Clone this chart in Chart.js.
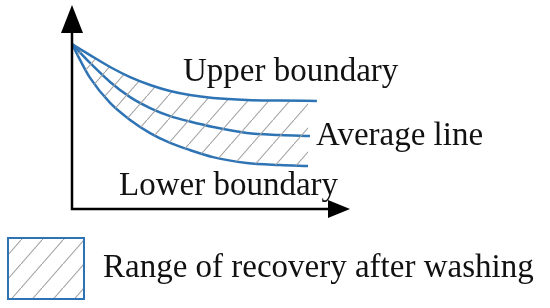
<!DOCTYPE html>
<html>
<head>
<meta charset="utf-8">
<script src="https://cdn.jsdelivr.net/npm/chart.js@4/dist/chart.umd.min.js"></script>
<style>
  html, body { margin: 0; padding: 0; background: #fff; }
  #wrap { width: 550px; height: 308px; }
</style>
</head>
<body>
<div id="wrap"><canvas id="chart" width="550" height="308"></canvas></div>
<script>
// schematic curves (arbitrary units)
const upperX = [0, 0.65, 1.37, 2.09, 2.81, 3.53, 4.24, 5.07, 6.29, 7.48, 8.81];
const upperY = [8.17, 7.62, 7.03, 6.53, 6.14, 5.84, 5.64, 5.50, 5.40, 5.37, 5.35];
const averageX = [0, 0.65, 1.37, 2.09, 2.81, 3.53, 4.24, 5.07, 6.29, 7.48, 8.56];
const averageY = [8.17, 7.23, 6.29, 5.54, 5.00, 4.60, 4.33, 4.06, 3.76, 3.66, 3.61];
const lowerX = [0, 0.29, 0.65, 1.37, 2.09, 2.81, 3.53, 4.24, 5.07, 6.29, 7.48, 8.49];
const lowerY = [8.17, 7.38, 6.49, 5.25, 4.41, 3.76, 3.27, 2.92, 2.57, 2.28, 2.18, 2.13];

const labelUpper = 'Upper boundary';
const labelAverage = 'Average line';
const labelLower = 'Lower boundary';
const legendText = 'Range of recovery after washing';

const blue = '#2e74b5';
const font = '33px "Liberation Serif", "Times New Roman", serif';

function toPoints(xs, ys) {
  return xs.map((x, i) => ({ x: x, y: ys[i] }));
}

// diagonal hatch pattern
function makeHatch() {
  const w = 21, h = 24;
  const c = document.createElement('canvas');
  c.width = w;
  c.height = h;
  const g = c.getContext('2d');
  g.strokeStyle = '#a3a3a3';
  g.lineWidth = 1.1;
  g.beginPath();
  g.moveTo(-w, 2 * h); g.lineTo(2 * w, -h);
  g.stroke();
  return g.createPattern(c, 'repeat');
}

const ctx = document.getElementById('chart').getContext('2d');
const hatch = makeHatch();

// axes with arrows, text labels and the legend box
const sketchPlugin = {
  id: 'sketch',
  afterDatasetsDraw(chart) {
    const c = chart.ctx;
    const xs = chart.scales.x, ys = chart.scales.y;
    const x0 = xs.getPixelForValue(0), y0 = ys.getPixelForValue(0);
    const xTip = xs.getPixelForValue(xs.max), yTip = ys.getPixelForValue(ys.max);
    c.save();
    c.strokeStyle = '#000';
    c.fillStyle = '#000';
    c.lineWidth = 2.5;
    c.beginPath();
    c.moveTo(x0, yTip + 20); c.lineTo(x0, y0); c.lineTo(xTip - 15, y0);
    c.stroke();
    // y arrow
    c.beginPath();
    c.moveTo(x0, yTip); c.lineTo(x0 - 11, yTip + 28); c.lineTo(x0 + 11, yTip + 28);
    c.closePath(); c.fill();
    // x arrow
    c.beginPath();
    c.moveTo(xTip, y0); c.lineTo(xTip - 22, y0 - 9); c.lineTo(xTip - 22, y0 + 9);
    c.closePath(); c.fill();

    c.font = font;
    c.textBaseline = 'alphabetic';
    c.fillStyle = '#111';
    c.fillText(labelUpper, 183, 81);
    c.fillText(labelAverage, 316, 145);
    c.fillText(labelLower, 119, 195);

    // legend
    c.fillStyle = hatch;
    c.fillRect(8, 238, 76, 61);
    c.strokeStyle = blue;
    c.lineWidth = 2;
    c.strokeRect(8, 238, 76, 61);
    c.fillStyle = '#111';
    c.fillText(legendText, 103, 277);
    c.restore();
  }
};

const chart = new Chart(ctx, {
  type: 'line',
  data: {
    datasets: [
      {
        label: labelUpper,
        data: toPoints(upperX, upperY),
        borderColor: blue,
        backgroundColor: hatch,
        fill: 2
      },
      {
        label: labelAverage,
        data: toPoints(averageX, averageY),
        borderColor: blue,
        fill: false
      },
      {
        label: labelLower,
        data: toPoints(lowerX, lowerY),
        borderColor: blue,
        fill: false
      }
    ]
  },
  options: {
    responsive: false,
    animation: false,
    layout: { padding: { left: 72, right: 200, top: 5, bottom: 99 } },
    elements: {
      point: { radius: 0 },
      line: { borderWidth: 2.5, cubicInterpolationMode: 'monotone' }
    },
    scales: {
      x: { type: 'linear', min: 0, max: 10, display: false },
      y: { type: 'linear', min: 0, max: 10.1, display: false }
    },
    plugins: {
      legend: { display: false },
      tooltip: { enabled: false }
    }
  },
  plugins: [sketchPlugin]
});
</script>
</body>
</html>
